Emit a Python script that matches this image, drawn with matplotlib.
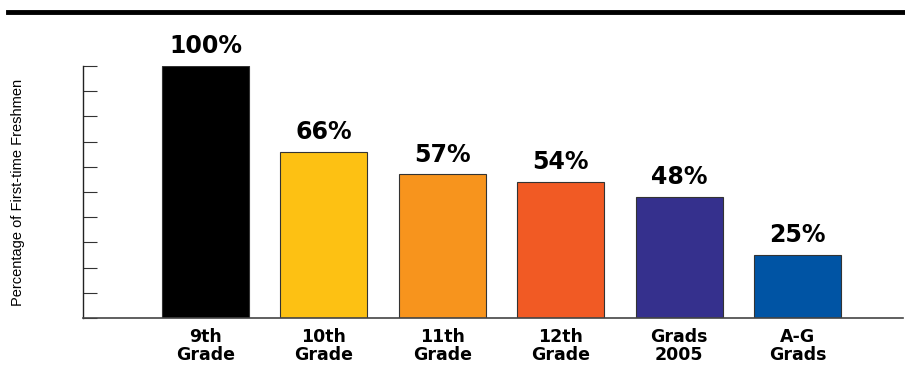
import matplotlib
matplotlib.use("Agg")
import matplotlib.pyplot as plt
from matplotlib.lines import Line2D

categories = ["9th\nGrade", "10th\nGrade", "11th\nGrade", "12th\nGrade", "Grads\n2005", "A-G\nGrads"]
values = [100, 66, 57, 54, 48, 25]
labels = ["100%", "66%", "57%", "54%", "48%", "25%"]
colors = ["#000000", "#FDC113", "#F7941D", "#F15A24", "#35308D", "#0054A4"]

W, H = 905, 366
fig = plt.figure(figsize=(W / 100, H / 100), dpi=100)

# axes box in pixel coords: left spine x=83, baseline y=318, 100% at y=66
ax = fig.add_axes([83 / W, (H - 318) / H, (903 - 83) / W, (318 - 66) / H])

x = range(len(values))
ax.bar(x, values, width=0.735, color=colors, edgecolor="#333333", linewidth=0.8, zorder=2)

for i, (v, lab) in enumerate(zip(values, labels)):
    ax.text(i, v + 3, lab, ha="center", va="bottom", fontsize=17,
            fontweight="heavy", family=["DejaVu Sans"], color="black")

ax.set_xlim(-1.035, 5.89)
ax.set_ylim(0, 100)
ax.set_yticks(range(0, 101, 10))
ax.set_yticklabels([])
ax.tick_params(axis="y", direction="in", length=10, width=0.8, color="#333333")
ax.set_xticks(list(x))
ax.set_xticklabels(categories, fontsize=12.5, fontweight="bold",
                   family=["DejaVu Sans"], linespacing=1.0)
ax.tick_params(axis="x", length=0, pad=7)

for s in ["top", "right"]:
    ax.spines[s].set_visible(False)
ax.spines["left"].set_linewidth(1.0)
ax.spines["bottom"].set_linewidth(1.2)
ax.spines["left"].set_color("#222222")
ax.spines["bottom"].set_color("#444444")

ax.set_ylabel("Percentage of First-time Freshmen", fontsize=10.5,
              family=["Liberation Sans", "DejaVu Sans"])
ax.yaxis.set_label_coords((25 - 83) / (903 - 83), 0.5)

# thick rule across the top
fig.add_artist(Line2D([8 / W, 905 / W], [(H - 12) / H] * 2, color="black", linewidth=3.5))

fig.savefig("out.png", dpi=100)
